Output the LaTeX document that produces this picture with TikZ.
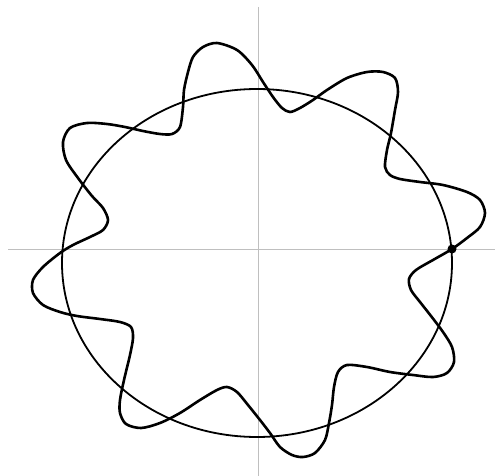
\documentclass[tikz,border=0pt]{standalone}
\begin{document}
\begin{tikzpicture}[x=1pt,y=-1pt,
  axisline/.style={draw=black!25, line width=0.8pt},
  circleline/.style={draw=black, line width=1.8pt},
  waveline/.style={draw=black, line width=2.6pt, line join=round},
  dotmark/.style={fill=black}]
\useasboundingbox (0,0) rectangle (495,476);
\coordinate (O) at (258,249);
\coordinate (xl) at (8,249);
\coordinate (xr) at (495,249);
\coordinate (yt) at (258,7);
\coordinate (yb) at (258,476);
\draw[axisline] (xl) -- (xr);
\draw[axisline] (yt) -- (yb);
\coordinate (C) at (257,263);
\draw[circleline] (C) ellipse [x radius=195pt, y radius=174pt];
\draw[waveline] plot[smooth cycle, tension=0.5] coordinates {
(452,249) (467,238) (480,227) (485,213) (480,200) (467,192) (443,185) (420,182)
(400,179) (390,175) (385,167) (387,150) (391,133) (395,110) (398,92) (395,78)
(383,72) (367,72) (347,78) (327,90) (313,100) (300,108) (290,112) (282,108)
(273,97) (263,82) (252,65) (237,50) (217,43) (203,47) (193,57) (188,72)
(184,90) (183,107) (180,127) (172,134) (160,134) (143,131) (125,127) (107,124)
(87,123) (70,128) (63,142) (66,160) (78,178) (92,196) (103,208) (108,220)
(103,230) (90,237) (73,245) (60,253) (43,267) (33,280) (33,293) (43,305)
(60,312) (77,316) (100,319) (120,322) (131,327) (133,338) (130,355) (124,380)
(120,400) (120,413) (126,424) (141,428) (160,423) (180,413) (200,400) (217,390)
(227,387) (237,392) (248,405) (260,420) (270,433) (280,447) (292,455) (303,457)
(315,453) (325,440) (329,423) (332,405) (334,387) (338,372) (347,365) (367,367)
(390,372) (413,375) (433,377) (447,373) (454,362) (452,347) (443,332) (431,316)
(420,302) (411,290) (409,279) (416,270) (433,260)};
\node[dotmark, circle, inner sep=0pt, minimum size=9pt] (P) at (452,249) {};
\end{tikzpicture}
\end{document}
